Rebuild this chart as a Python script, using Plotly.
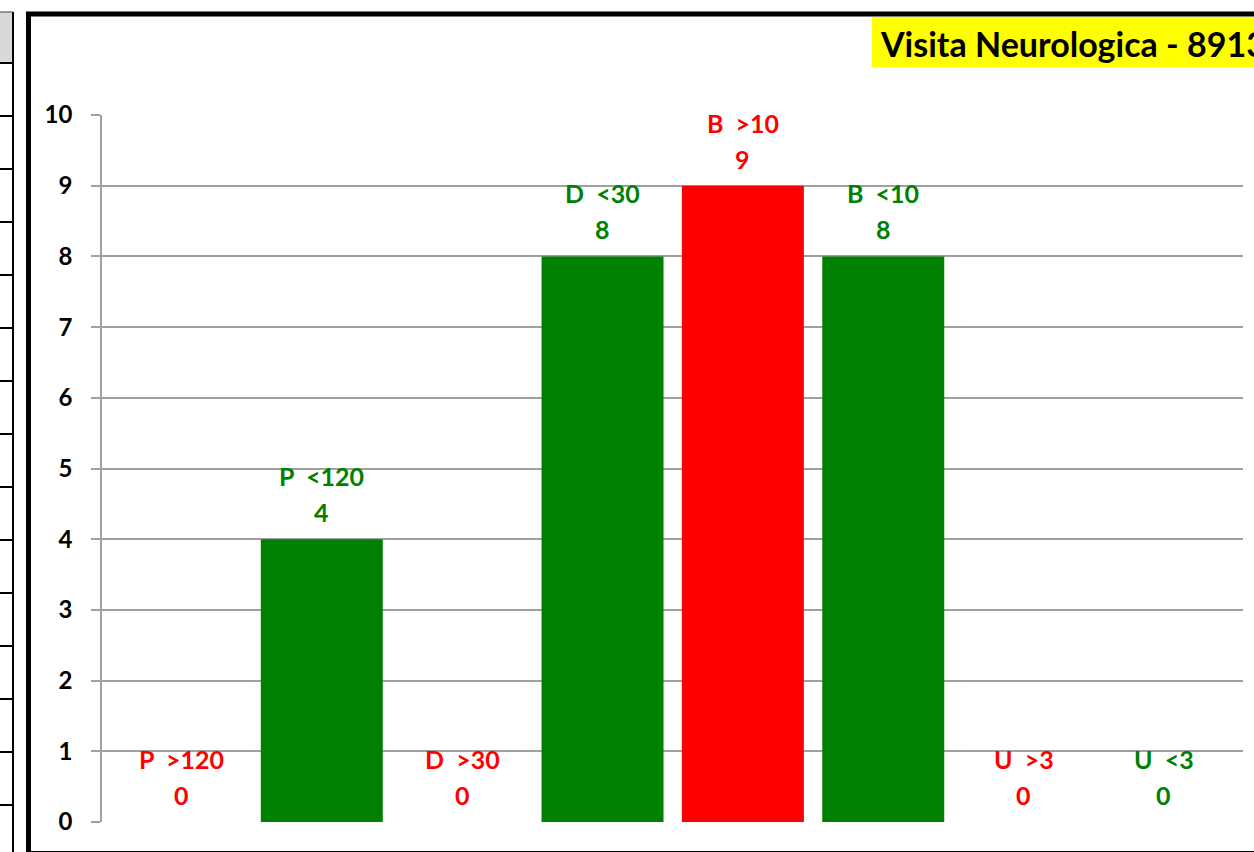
import plotly.graph_objects as go

categories = ["P  >120", "P  <120", "D  >30", "D  <30", "B  >10", "B  <10", "U  >3", "U  <3"]
values = [0, 4, 0, 8, 9, 8, 0, 0]
bar_colors = ["#FF0000", "#008000", "#FF0000", "#008000", "#FF0000", "#008000", "#FF0000", "#008000"]
y_ticks = list(range(0, 11))
title_text = "Visita Neurologica - 8913"

W, H = 1254, 852
L, R, T, B = 102, 1243, 115, 822


def px(x):
    return (x - L) / (R - L)


def py(y):
    return (B - y) / (B - T)


FONT = "Lato, Carlito, Calibri, sans-serif"

fig = go.Figure()
fig.add_trace(go.Bar(
    x=categories, y=values, marker_color=bar_colors, marker_line_width=0,
    width=0.869, hoverinfo="skip",
))

annotations = []
for c, v, col in zip(categories, values, bar_colors):
    label = c.replace(" ", "\u00a0")
    annotations.append(dict(x=c, y=v, xref="x", yref="y", text="<b>%s</b>" % label,
                            showarrow=False, yanchor="middle", yshift=63,
                            font=dict(family=FONT, size=25, color=col)))
    annotations.append(dict(x=c, y=v, xref="x", yref="y", text="<b>%d</b>" % v,
                            showarrow=False, yanchor="middle", yshift=27,
                            font=dict(family=FONT, size=25, color=col)))

annotations.append(dict(x=px(878), y=py(43), xref="paper", yref="paper",
                        text="<b>%s</b>" % title_text, showarrow=False,
                        xanchor="left", yanchor="middle",
                        font=dict(family=FONT, size=34, color="black")))

shapes = []
# left table strip
shapes.append(dict(type="rect", xref="paper", yref="paper", x0=px(-5), x1=px(13), y0=py(12), y1=py(63),
                   fillcolor="#D9D9D9", line=dict(width=0), layer="below"))
for k in range(15):
    yy = 63 + 53 * k
    shapes.append(dict(type="line", xref="paper", yref="paper", x0=px(-5), x1=px(13), y0=py(yy), y1=py(yy),
                       line=dict(color="black", width=2)))
shapes.append(dict(type="line", xref="paper", yref="paper", x0=px(13), x1=px(13), y0=py(12), y1=py(860),
                   line=dict(color="black", width=2)))
shapes.append(dict(type="line", xref="paper", yref="paper", x0=px(-5), x1=px(13), y0=py(12), y1=py(12),
                   line=dict(color="#404040", width=1)))
# thick frame
shapes.append(dict(type="rect", xref="paper", yref="paper", x0=px(28.5), x1=px(1270), y0=py(14), y1=py(853.5),
                   fillcolor="rgba(0,0,0,0)", line=dict(color="black", width=5)))
# title box
shapes.append(dict(type="rect", xref="paper", yref="paper", x0=px(872), x1=px(1270), y0=py(17), y1=py(67),
                   fillcolor="#FFFF00", line=dict(width=0)))

fig.update_layout(
    width=W, height=H,
    margin=dict(l=L, r=W - R, t=T, b=H - B, pad=0),
    paper_bgcolor="white", plot_bgcolor="white",
    showlegend=False,
    annotations=annotations,
    shapes=shapes,
    font=dict(family=FONT),
)
fig.update_xaxes(range=[-0.566, 7.563], showticklabels=False, ticks="", showgrid=False,
                 zeroline=False, showline=False, fixedrange=True)
fig.update_yaxes(range=[0, 10], tickvals=y_ticks, ticks="outside", ticklen=9, tickwidth=1.5,
                 tickcolor="#A0A0A0", showgrid=True, gridcolor="#A0A0A0", gridwidth=1.5,
                 showline=True, linecolor="#A0A0A0", linewidth=1.5, zeroline=False,
                 ticklabelstandoff=14,
                 tickfont=dict(family=FONT, size=24, color="black", weight="bold"))

fig.write_html("out.html", config={"displayModeBar": False},
               post_script="document.body.style.margin='0px';document.body.style.overflow='hidden';")
